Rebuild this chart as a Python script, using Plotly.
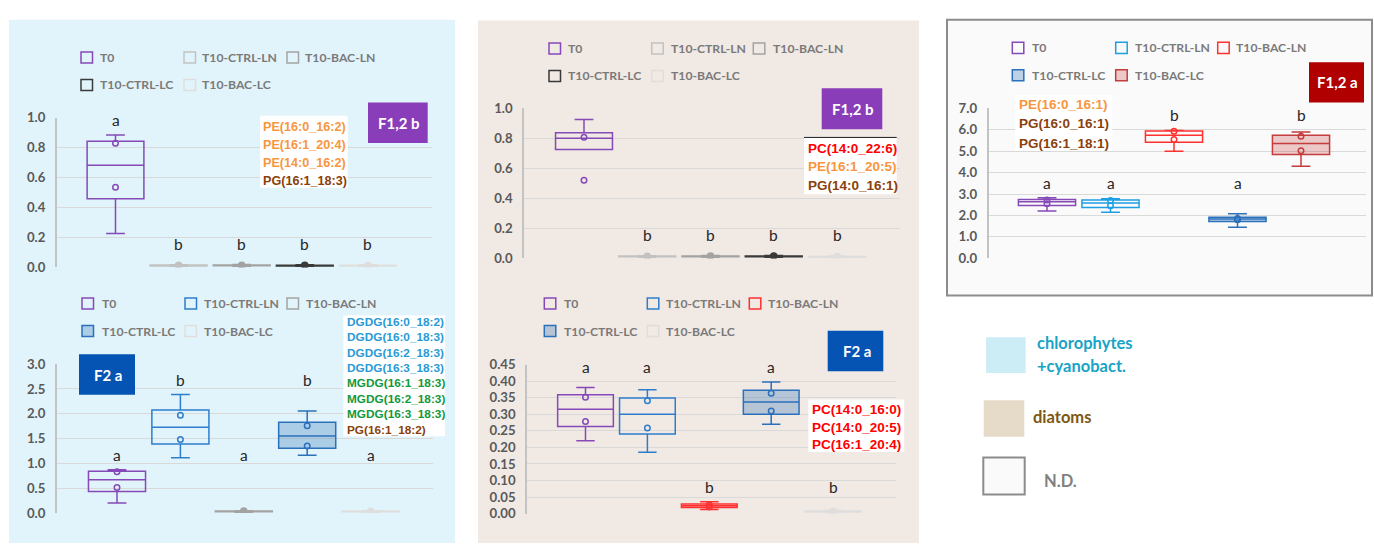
import numpy as np
import plotly.graph_objects as go

W, H = 1374, 551

groups = ["T0", "T10-CTRL-LN", "T10-BAC-LN", "T10-CTRL-LC", "T10-BAC-LC"]

# chlorophytes + cyanobacteria, F1,2 b
chl_f12b_values = [
    [0.225, 0.535, 0.83, 0.885],
    [0.006, 0.010, 0.014, 0.017],
    [0.007, 0.010, 0.014, 0.018],
    [0.006, 0.010, 0.013, 0.017],
    [0.005, 0.009, 0.013, 0.016],
]
chl_f12b_letters = ["a", "b", "b", "b", "b"]
chl_f12b_lipids = ["PE(16:0_16:2)", "PE(16:1_20:4)", "PE(14:0_16:2)", "PG(16:1_18:3)"]

# chlorophytes + cyanobacteria, F2 a
chl_f2a_values = [
    [0.20, 0.51, 0.83, 0.87],
    [1.11, 1.48, 1.97, 2.39],
    [0.015, 0.026, 0.036, 0.045],
    [1.16, 1.35, 1.755, 2.055],
    [0.013, 0.024, 0.034, 0.042],
]
chl_f2a_letters = ["a", "b", "a", "b", "a"]
chl_f2a_lipids = ["DGDG(16:0_18:2)", "DGDG(16:0_18:3)", "DGDG(16:2_18:3)", "DGDG(16:3_18:3)",
                  "MGDG(16:1_18:3)", "MGDG(16:2_18:3)", "MGDG(16:3_18:3)", "PG(16:1_18:2)"]

# diatoms, F1,2 b
dia_f12b_values = [
    [0.52, 0.793, 0.807, 0.926],
    [0.006, 0.010, 0.013, 0.017],
    [0.007, 0.010, 0.014, 0.018],
    [0.007, 0.011, 0.014, 0.018],
    [0.004, 0.008, 0.011, 0.014],
]
dia_f12b_letters = ["a", "b", "b", "b", "b"]
dia_f12b_lipids = ["PC(14:0_22:6)", "PE(16:1_20:5)", "PG(14:0_16:1)"]

# diatoms, F2 a
dia_f2a_values = [
    [0.22, 0.278, 0.352, 0.381],
    [0.185, 0.259, 0.341, 0.374],
    [0.012, 0.020, 0.027, 0.036],
    [0.27, 0.31, 0.364, 0.398],
    [0.003, 0.005, 0.007, 0.009],
]
dia_f2a_letters = ["a", "a", "b", "a", "b"]
dia_f2a_lipids = ["PC(14:0_16:0)", "PC(14:0_20:5)", "PC(16:1_20:4)"]

# not determined, F1,2 a
nd_f12a_values = [
    [2.20, 2.55, 2.72, 2.83],
    [2.15, 2.45, 2.70, 2.78],
    [5.00, 5.55, 5.93, 5.97],
    [1.45, 1.80, 1.86, 2.08],
    [4.30, 5.02, 5.70, 5.90],
]
nd_f12a_letters = ["a", "a", "b", "a", "b"]
nd_f12a_lipids = ["PE(16:0_16:1)", "PG(16:0_16:1)", "PG(16:1_18:1)"]

# ---------------------------------------------------------------- styling
def fx(px):
    return px / W


def fy(py):
    return 1 - py / H


PANEL_BLUE = "#e2f4fb"
PANEL_BEIGE = "#f1e9e4"
PANEL_GREY = "#fafafa"

PURPLE = "#8549b8"
BLUE = "#2e7dcc"
BLUE_LC = "#2a70bb"
BLUE_FILL = "rgba(46,117,182,0.30)"
SKY = "#1f9fe3"
RED = "#ff3030"
DRED = "#c43c3c"
DRED_FILL = "rgba(200,50,50,0.25)"

BADGE_PURPLE = "#8a3db8"
BADGE_BLUE = "#0554b4"
BADGE_RED = "#b00000"

LIPID_COLORS = {"PE": "#f7963e", "PG": "#8a3f0c", "PC": "#ff0000",
                "DGDG": "#2a9ad6", "MGDG": "#12993a"}

LABEL_FONT = "Lato, Open Sans, sans-serif"
LIPID_FONT = "Liberation Sans, Arial, sans-serif"


def sty(line, fill=None, dot="circle-open"):
    return dict(line=line, fill=fill, dot=dot)


grey_styles = [sty(PURPLE), sty("#c2c2c2", dot="circle"), sty("#a3a3a3", dot="circle"),
               sty("#3a3a3a", dot="circle"), sty("#dedede", dot="circle")]

panels = [
    dict(values=chl_f12b_values, letters=chl_f12b_letters, lipids=chl_f12b_lipids,
         badge="F1,2 b", badge_color=BADGE_PURPLE, styles=grey_styles,
         plot=(57, 432, 113, 267), first=115.5, step=63.1, ymax=1.0, dtick=0.2, fmt="{:.1f}",
         leg_sq=(81, 184, 287), leg_tx=(98, 200, 303), leg_rows=(51, 79.3), bg=PANEL_BLUE,
         badge_box=(368, 427.7, 97.3, 139), lip_box=(260, 347.7, 111, 185),
         lip_x=260.7, lip_y0=122.3, lip_dy=18.5, lip_size=12.6, lip_bold=True, lip_topline=False),
    dict(values=chl_f2a_values, letters=chl_f2a_letters, lipids=chl_f2a_lipids,
         badge="F2 a", badge_color=BADGE_BLUE,
         styles=[sty(PURPLE), sty(BLUE), sty("#a3a3a3", dot="circle"),
                 sty(BLUE_LC, BLUE_FILL), sty("#dedede", dot="circle")],
         plot=(57, 433, 366.7, 520), first=117, step=63.4, ymax=3.0, dtick=0.5, fmt="{:.1f}",
         leg_sq=(82, 185, 287), leg_tx=(100, 202, 304), leg_rows=(304.3, 332.7), bg=PANEL_BLUE,
         badge_box=(79, 135, 356.7, 398.3), lip_box=(343.3, 445, 316.7, 441),
         lip_x=345.2, lip_y0=323.3, lip_dy=15.85, lip_size=11.8, lip_bold=True, lip_topline=False),
    dict(values=dia_f12b_values, letters=dia_f12b_letters, lipids=dia_f12b_lipids,
         badge="F1,2 b", badge_color=BADGE_PURPLE, styles=grey_styles,
         plot=(524.3, 900, 103.3, 257.7), first=584, step=63.25, ymax=1.0, dtick=0.2, fmt="{:.1f}",
         leg_sq=(549, 651.7, 753.3), leg_tx=(566, 669, 771), leg_rows=(41.7, 70), bg=PANEL_BEIGE,
         badge_box=(821.7, 882.3, 82.7, 125), lip_box=(804, 896.7, 133.3, 191.7),
         lip_x=806, lip_y0=144.3, lip_dy=19.2, lip_size=13.5, lip_bold=True, lip_topline=True),
    dict(values=dia_f2a_values, letters=dia_f2a_letters, lipids=dia_f2a_lipids,
         badge="F2 a", badge_color=BADGE_BLUE,
         styles=[sty(PURPLE), sty(BLUE), sty(RED), sty(BLUE_LC, BLUE_FILL),
                 sty("#dedede", dot="circle")],
         plot=(527.3, 895.7, 367.3, 520.7), first=585.5, step=61.9, ymax=0.45, dtick=0.05,
         fmt="{:.2f}",
         leg_sq=(544.3, 647.3, 749.3), leg_tx=(562.3, 664.3, 766), leg_rows=(304.3, 332.7),
         bg=PANEL_BEIGE,
         badge_box=(827.7, 883.3, 332.3, 374), lip_box=(808.3, 904.3, 403.3, 457.3),
         lip_x=810, lip_y0=414, lip_dy=18, lip_size=13.5, lip_bold=True, lip_topline=False),
    dict(values=nd_f12a_values, letters=nd_f12a_letters, lipids=nd_f12a_lipids,
         badge="F1,2 a", badge_color=BADGE_RED,
         styles=[sty(PURPLE), sty(SKY), sty(RED), sty(BLUE_LC, BLUE_FILL), sty(DRED, DRED_FILL)],
         plot=(988.7, 1366, 103.3, 257.7), first=1047, step=63.5, ymax=7.0, dtick=1.0,
         fmt="{:.1f}",
         leg_sq=(1012.3, 1115.7, 1217.7), leg_tx=(1030, 1132.7, 1234.3), leg_rows=(41, 69.3),
         bg=PANEL_GREY,
         badge_box=(1309, 1364, 56, 97.3), lip_box=(1015, 1112.3, 89.3, 146.7),
         lip_x=1016.7, lip_y0=99.3, lip_dy=20, lip_size=13.5, lip_bold=True, lip_topline=False),
]

# legend layout: first row holds groups 0-2, second row groups 3-4
legend_slots = [(0, 0), (0, 1), (0, 2), (1, 0), (1, 1)]

fig = go.Figure()
shapes = []
annotations = []

# background panels
shapes.append(dict(type="rect", xref="paper", yref="paper", layer="below",
                   x0=fx(9), x1=fx(455), y0=fy(551), y1=fy(12),
                   fillcolor=PANEL_BLUE, line=dict(width=0)))
shapes.append(dict(type="rect", xref="paper", yref="paper", layer="below",
                   x0=fx(478), x1=fx(919), y0=fy(551), y1=fy(13),
                   fillcolor=PANEL_BEIGE, line=dict(width=0)))
shapes.append(dict(type="rect", xref="paper", yref="paper", layer="below",
                   x0=fx(947), x1=fx(1372), y0=fy(296), y1=fy(12),
                   fillcolor=PANEL_GREY, line=dict(color="#8c8c8c", width=2)))


def box_stats(v):
    """Inclusive quartiles and 1.5*IQR whisker ends of one sample."""
    v = np.sort(np.asarray(v, dtype=float))
    q1, med, q3 = np.quantile(v, [0.25, 0.5, 0.75], method="linear")
    iqr = q3 - q1
    inside = v[(v >= q1 - 1.5 * iqr) & (v <= q3 + 1.5 * iqr)]
    return q1, med, q3, inside.min(), inside.max()


for p, pan in enumerate(panels, start=1):
    s = "" if p == 1 else str(p)
    x0, x1, ytop, ybot = pan["plot"]
    first, step, ymax = pan["first"], pan["step"], pan["ymax"]
    xr = [(x0 - first) / step, (x1 - first) / step]
    nt = int(round(ymax / pan["dtick"]))
    tickvals = [round(k * pan["dtick"], 4) for k in range(nt + 1)]
    fig.layout[f"xaxis{s}"] = dict(domain=[fx(x0), fx(x1)], range=xr, anchor=f"y{s}",
                                   showgrid=False, zeroline=False, showline=False,
                                   showticklabels=False, ticks="", fixedrange=True)
    fig.layout[f"yaxis{s}"] = dict(domain=[fy(ybot), fy(ytop)], range=[0, ymax * 1.0005],
                                   anchor=f"x{s}", tickmode="array", tickvals=tickvals,
                                   ticktext=[pan["fmt"].format(t) for t in tickvals],
                                   showgrid=True, gridcolor="#d9d9d9", gridwidth=1,
                                   zeroline=False, showline=True, linecolor="#c3c3c3",
                                   linewidth=2, ticks="outside", ticklen=7,
                                   tickcolor="rgba(0,0,0,0)", fixedrange=True,
                                   tickfont=dict(family=LABEL_FONT, size=13.2,
                                                 color="#595959", weight="bold"))

    # boxes and their individual points
    for i, (vals, st) in enumerate(zip(pan["values"], pan["styles"])):
        q1, med, q3, lo, hi = box_stats(vals)
        fig.add_trace(go.Box(
            x=[i], q1=[q1], median=[med], q3=[q3],
            lowerfence=[min(lo, q1)], upperfence=[max(hi, q3)],
            xaxis=f"x{s}", yaxis=f"y{s}",
            width=0.9, whiskerwidth=0.33, boxpoints=False,
            line=dict(color=st["line"], width=1.5),
            fillcolor=st["fill"] if st["fill"] else "rgba(0,0,0,0)",
            name=groups[i], showlegend=False, hoverinfo="skip"))
        pts = [v for v in vals if v != lo and v != hi]
        fig.add_trace(go.Scatter(
            x=[i] * len(pts), y=pts, xaxis=f"x{s}", yaxis=f"y{s}", mode="markers",
            marker=dict(symbol=st["dot"], size=6 if st["dot"] == "circle" else 5.5,
                        color=st["line"], line=dict(color=st["line"], width=1.5)),
            showlegend=False, hoverinfo="skip"))

    # significance letters, one level per letter group
    levels = {}
    for L in set(pan["letters"]):
        top = max(max(v) for v, l in zip(pan["values"], pan["letters"]) if l == L)
        levels[L] = max(top + 0.1 * ymax, 0.155 * ymax)
    for i, L in enumerate(pan["letters"]):
        annotations.append(dict(x=i, y=levels[L], xref=f"x{s}", yref=f"y{s}", text=L,
                                showarrow=False, yanchor="middle",
                                font=dict(family=LABEL_FONT, size=15.5, color="#262626")))

    # group legend
    for gi, (row, col) in enumerate(legend_slots):
        st = pan["styles"][gi]
        ry = pan["leg_rows"][row]
        sx = pan["leg_sq"][col]
        shapes.append(dict(type="rect", xref="paper", yref="paper", layer="above",
                           x0=fx(sx), x1=fx(sx + 11.5), y0=fy(ry + 5.75), y1=fy(ry - 5.75),
                           fillcolor=st["fill"] if st["fill"] else pan["bg"],
                           line=dict(color=st["line"], width=1.5)))
        annotations.append(dict(x=fx(pan["leg_tx"][col]), y=fy(ry), xref="paper", yref="paper",
                                text=groups[gi], showarrow=False, xanchor="left",
                                yanchor="middle",
                                font=dict(family=LABEL_FONT, size=12.2, color="#7a7a7a",
                                          weight="bold")))

    # fraction badge
    bx0, bx1, by0, by1 = pan["badge_box"]
    shapes.append(dict(type="rect", xref="paper", yref="paper", layer="above",
                       x0=fx(bx0), x1=fx(bx1), y0=fy(by1), y1=fy(by0),
                       fillcolor=pan["badge_color"], line=dict(width=0)))
    annotations.append(dict(x=fx((bx0 + bx1) / 2 + 1), y=fy((by0 + by1) / 2), xref="paper",
                            yref="paper", text=pan["badge"], showarrow=False,
                            xanchor="center", yanchor="middle",
                            font=dict(family=LABEL_FONT, size=15, color="white",
                                      weight="bold")))

    # lipid species box
    lx0, lx1, ly0, ly1 = pan["lip_box"]
    shapes.append(dict(type="rect", xref="paper", yref="paper", layer="above",
                       x0=fx(lx0), x1=fx(lx1), y0=fy(ly1), y1=fy(ly0),
                       fillcolor="white", line=dict(width=0)))
    if pan["lip_topline"]:
        shapes.append(dict(type="line", xref="paper", yref="paper", layer="above",
                           x0=fx(lx0), x1=fx(lx1), y0=fy(ly0), y1=fy(ly0),
                           line=dict(color="#202020", width=1)))
    for k, lip in enumerate(pan["lipids"]):
        annotations.append(dict(x=fx(pan["lip_x"]), y=fy(pan["lip_y0"] + k * pan["lip_dy"]),
                                xref="paper", yref="paper", text=lip, showarrow=False,
                                xanchor="left", yanchor="middle",
                                font=dict(family=LIPID_FONT, size=pan["lip_size"],
                                          color=LIPID_COLORS[lip.split("(")[0]],
                                          weight="bold" if pan["lip_bold"] else "normal")))

# community key
key_items = [
    (986, 1025.7, 339, 376, "#cdedf6", None, ["chlorophytes", "+cyanobact."], "#18a4c6",
     1035, [345, 368.3]),
    (983.7, 1024.3, 404, 441.7, "#e6dbc8", None, ["diatoms"], "#7d5812", 1031, [421.7]),
    (983.3, 1024.7, 463, 501, "#fafafa", "#8c8c8c", ["N.D."], "#808080", 1042.3, [486.7]),
]
for kx0, kx1, ky0, ky1, kfill, kline, ktexts, kcol, ktx, ktys in key_items:
    shapes.append(dict(type="rect", xref="paper", yref="paper", layer="above",
                       x0=fx(kx0), x1=fx(kx1), y0=fy(ky1), y1=fy(ky0), fillcolor=kfill,
                       line=dict(color=kline, width=2) if kline else dict(width=0)))
    for t, ty in zip(ktexts, ktys):
        annotations.append(dict(x=fx(ktx), y=fy(ty), xref="paper", yref="paper", text=t,
                                showarrow=False, xanchor="left", yanchor="middle",
                                font=dict(family=LABEL_FONT, size=16.5, color=kcol,
                                          weight="bold")))

fig.update_layout(width=W, height=H, autosize=False, margin=dict(l=0, r=0, t=0, b=0, pad=0),
                  paper_bgcolor="white", plot_bgcolor="rgba(0,0,0,0)", showlegend=False,
                  boxmode="overlay", shapes=shapes, annotations=annotations)

fig.write_html("out.html")
